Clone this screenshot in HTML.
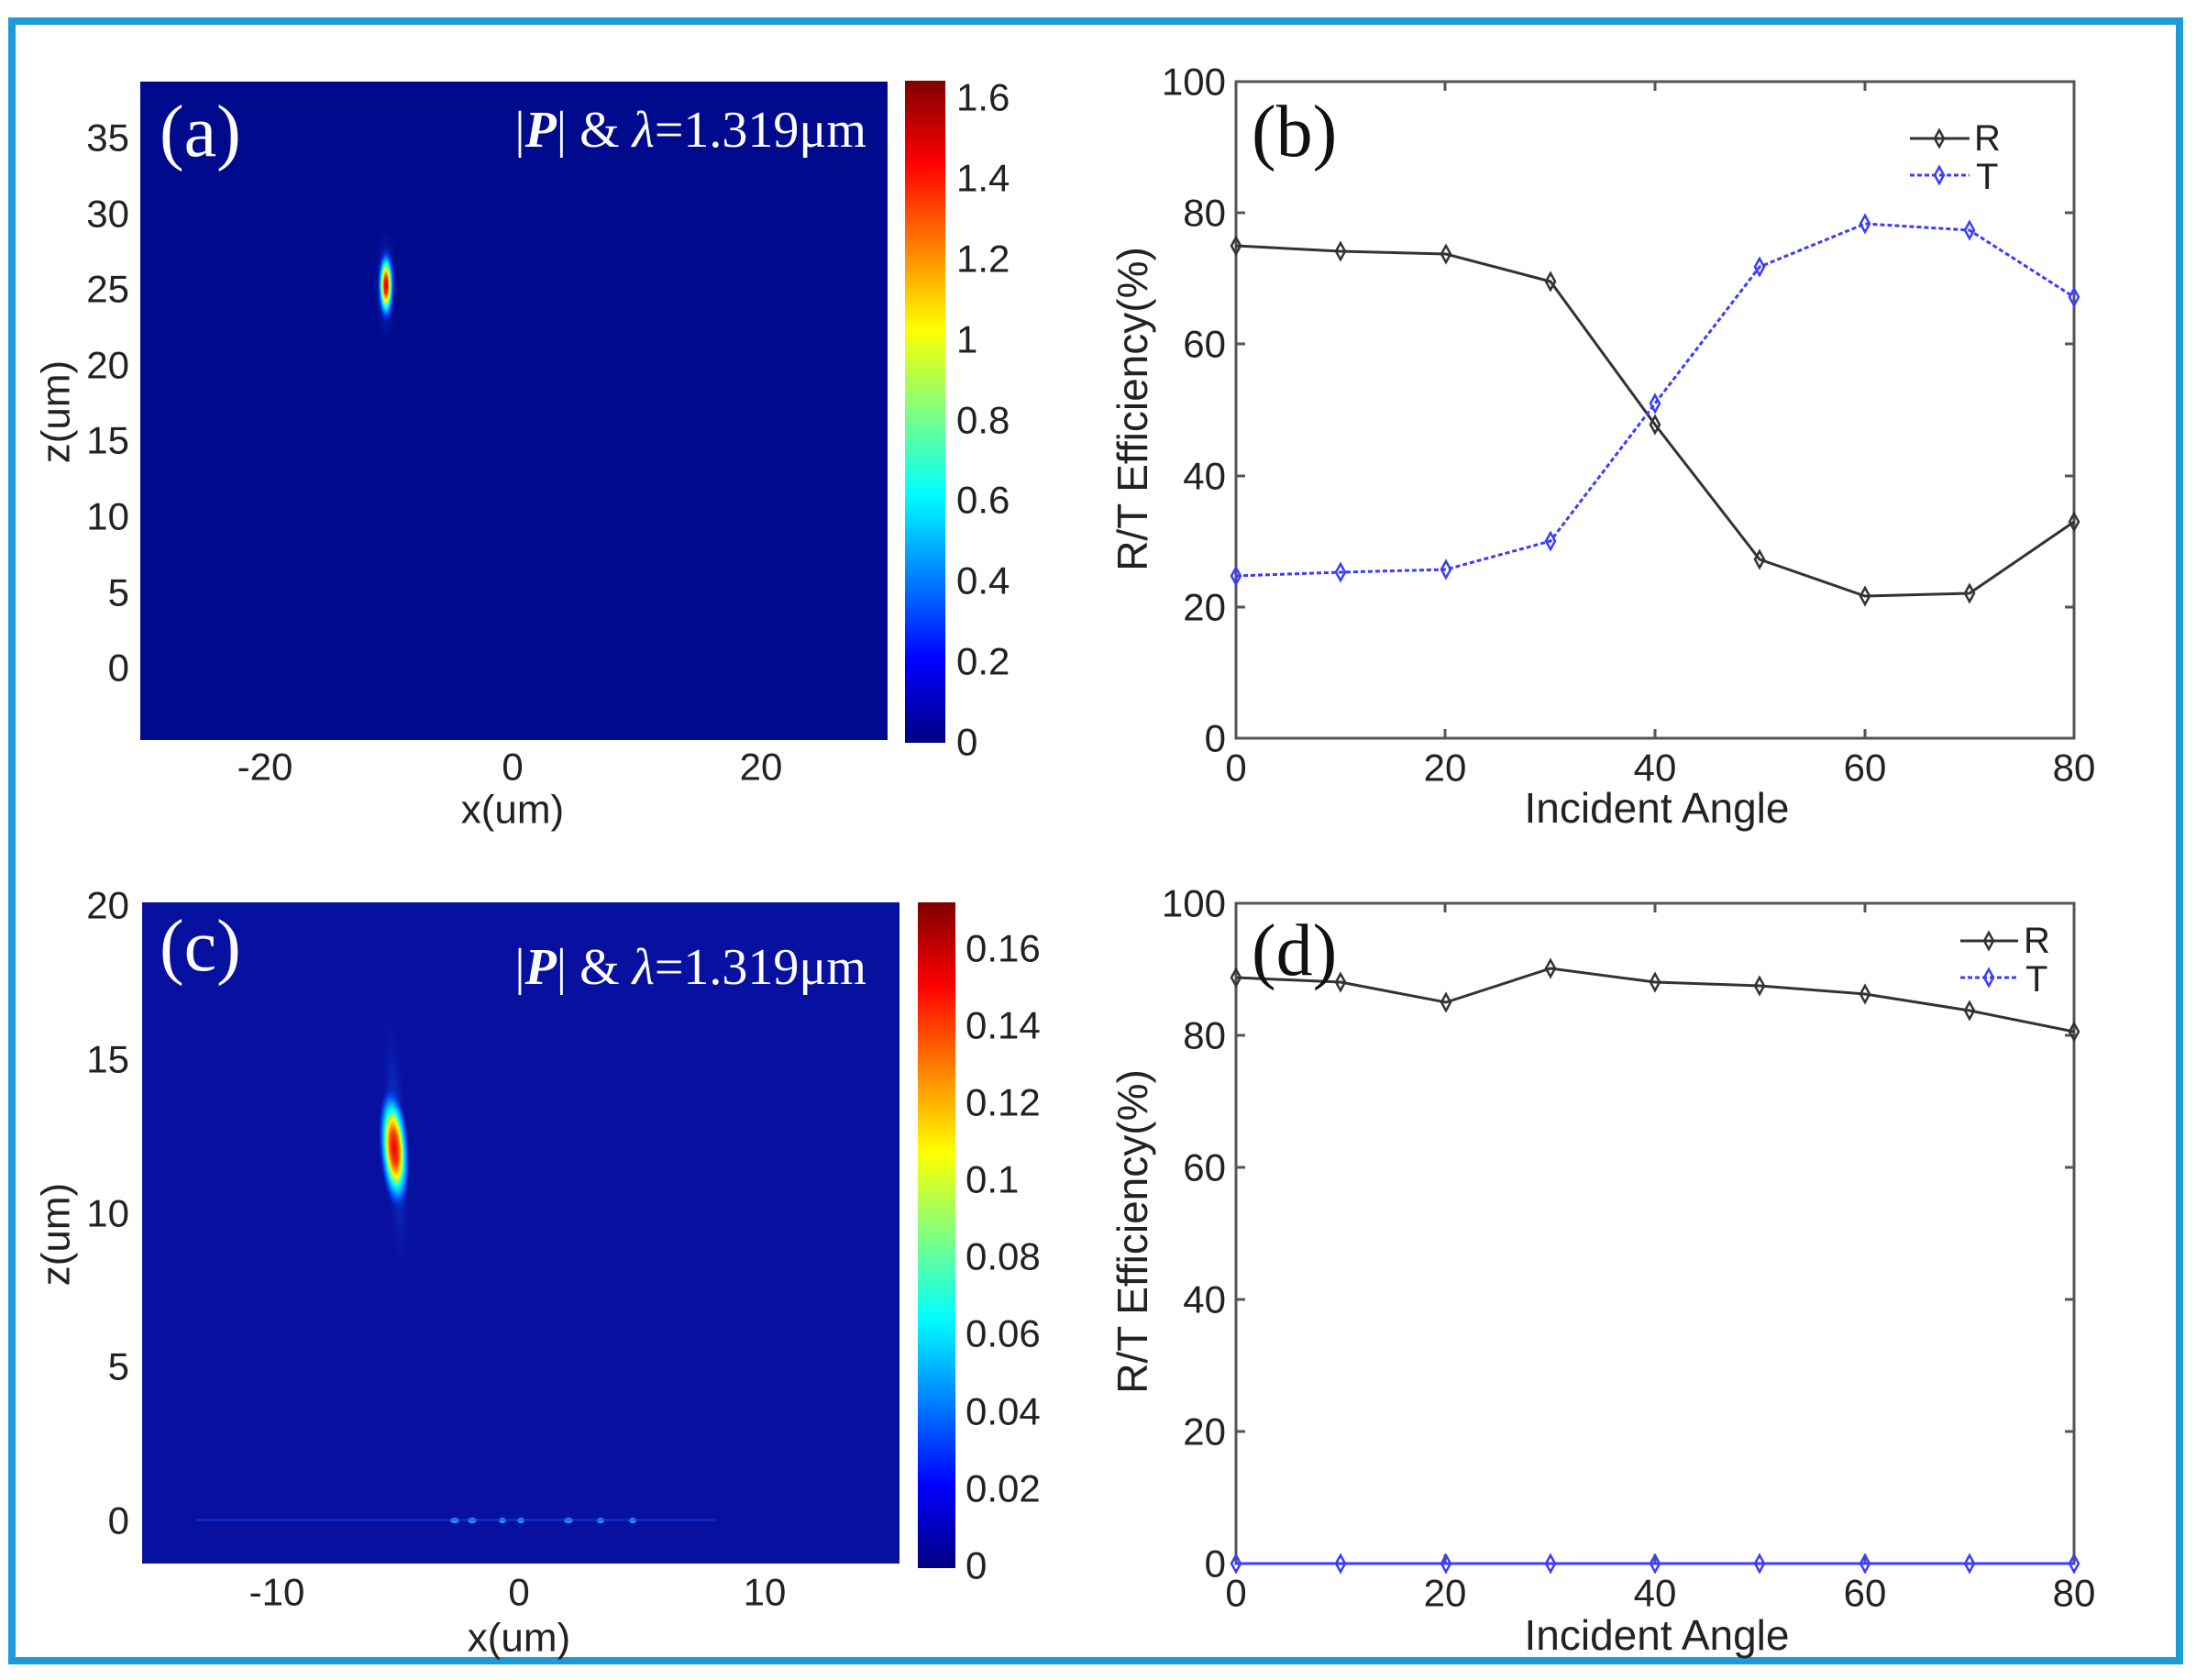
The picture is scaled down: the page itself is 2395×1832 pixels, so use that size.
<!DOCTYPE html>
<html><head><meta charset="utf-8"><style>html,body{margin:0;padding:0;background:#fff}svg{display:block}</style></head><body>
<svg width="2395" height="1832" viewBox="0 0 2395 1832" xmlns="http://www.w3.org/2000/svg" font-family="Liberation Sans, sans-serif" fill="#222">
<defs>
<linearGradient id="jet" x1="0" y1="1" x2="0" y2="0">
<stop offset="0" stop-color="#00007f"/><stop offset="0.125" stop-color="#0000ff"/><stop offset="0.375" stop-color="#00ffff"/><stop offset="0.5" stop-color="#7fff7f"/><stop offset="0.625" stop-color="#ffff00"/><stop offset="0.875" stop-color="#ff0000"/><stop offset="1" stop-color="#7f0000"/>
</linearGradient>
<radialGradient id="spot">
<stop offset="0" stop-color="#c00000"/><stop offset="0.2" stop-color="#ff2000"/><stop offset="0.38" stop-color="#ffff00"/><stop offset="0.55" stop-color="#00ffff"/><stop offset="0.75" stop-color="#0040ff"/><stop offset="1" stop-color="#000a8c" stop-opacity="0"/>
</radialGradient>
<radialGradient id="spot2">
<stop offset="0" stop-color="#e00000"/><stop offset="0.25" stop-color="#ff4000"/><stop offset="0.45" stop-color="#ffff00"/><stop offset="0.6" stop-color="#00ffff"/><stop offset="0.8" stop-color="#0050ff"/><stop offset="1" stop-color="#0a14a0" stop-opacity="0"/>
</radialGradient>
<radialGradient id="faint">
<stop offset="0" stop-color="#1060ff" stop-opacity="0.8"/><stop offset="1" stop-color="#0a14a0" stop-opacity="0"/>
</radialGradient>
</defs>
<rect x="13" y="23" width="2364" height="1788" fill="none" stroke="#1e9bd7" stroke-width="8"/>

<!-- Panel a -->
<rect x="153" y="89" width="815" height="718" fill="#000a8c"/>
<ellipse cx="421" cy="311" rx="14" ry="70" fill="url(#faint)"/>
<ellipse cx="421" cy="311" rx="10" ry="44" fill="url(#spot)"/>
<text x="174" y="170" font-family="Liberation Serif, serif" font-size="80" fill="#fff">(a)</text>
<text x="945" y="160" text-anchor="end" font-family="Liberation Serif, serif" font-size="56" fill="#fff">|<tspan font-style="italic" font-weight="bold">P</tspan>| &amp; <tspan font-style="italic">λ</tspan>=1.319μm</text>
<rect x="987" y="88" width="44" height="722" fill="url(#jet)"/>
<g font-size="42" text-anchor="end" dominant-baseline="central">
<text x="141" y="150">35</text><text x="141" y="233">30</text><text x="141" y="315">25</text><text x="141" y="398">20</text><text x="141" y="480">15</text><text x="141" y="563">10</text><text x="141" y="646">5</text><text x="141" y="728">0</text>
</g>
<g font-size="42" text-anchor="middle" dominant-baseline="central">
<text x="289" y="836">-20</text><text x="559" y="836">0</text><text x="830" y="836">20</text>
<text x="559" y="883" font-size="44">x(um)</text>
<text transform="translate(61,449) rotate(-90)" font-size="44">z(um)</text>
</g>
<g font-size="42" dominant-baseline="central">
<text x="1043" y="106">1.6</text><text x="1043" y="194">1.4</text><text x="1043" y="282">1.2</text><text x="1043" y="370">1</text><text x="1043" y="458">0.8</text><text x="1043" y="545">0.6</text><text x="1043" y="633">0.4</text><text x="1043" y="721">0.2</text><text x="1043" y="809">0</text>
</g>

<!-- Panel c -->
<rect x="155" y="984" width="826" height="721" fill="#0810a0"/>
<ellipse cx="432" cy="1245" rx="14" ry="160" fill="url(#faint)" transform="rotate(-3 432 1245)"/>
<ellipse cx="430" cy="1252" rx="17" ry="70" fill="url(#spot2)" transform="rotate(-4 430 1252)"/>
<g fill="#20a0ff">
<ellipse cx="496" cy="1658" rx="5" ry="3"/><ellipse cx="515" cy="1658" rx="5" ry="3"/><ellipse cx="548" cy="1658" rx="4" ry="3"/><ellipse cx="568" cy="1658" rx="4" ry="3"/><ellipse cx="620" cy="1658" rx="5" ry="3"/><ellipse cx="655" cy="1658" rx="4" ry="3"/><ellipse cx="690" cy="1658" rx="4" ry="3"/>
</g>
<g fill="#1040e0"><rect x="214" y="1656" width="566" height="3" opacity="0.5"/></g>
<text x="174" y="1058" font-family="Liberation Serif, serif" font-size="80" fill="#fff">(c)</text>
<text x="945" y="1073" text-anchor="end" font-family="Liberation Serif, serif" font-size="56" fill="#fff">|<tspan font-style="italic" font-weight="bold">P</tspan>| &amp; <tspan font-style="italic">λ</tspan>=1.319μm</text>
<rect x="1001" y="984" width="41" height="726" fill="url(#jet)"/>
<g font-size="42" text-anchor="end" dominant-baseline="central">
<text x="141" y="987">20</text><text x="141" y="1155">15</text><text x="141" y="1323">10</text><text x="141" y="1490">5</text><text x="141" y="1658">0</text>
</g>
<g font-size="42" text-anchor="middle" dominant-baseline="central">
<text x="302" y="1736">-10</text><text x="566" y="1736">0</text><text x="834" y="1736">10</text>
<text x="566" y="1786" font-size="44">x(um)</text>
<text transform="translate(61,1346) rotate(-90)" font-size="44">z(um)</text>
</g>
<g font-size="42" dominant-baseline="central">
<text x="1053" y="1034">0.16</text><text x="1053" y="1118">0.14</text><text x="1053" y="1202">0.12</text><text x="1053" y="1286">0.1</text><text x="1053" y="1370">0.08</text><text x="1053" y="1454">0.06</text><text x="1053" y="1539">0.04</text><text x="1053" y="1623">0.02</text><text x="1053" y="1707">0</text>
</g>

<!-- Panel b -->
<g stroke="#555" stroke-width="3" fill="none">
<rect x="1348" y="89" width="914" height="716"/>
<path d="M1348 232h10M1348 375h10M1348 519h10M1348 662h10M2262 232h-10M2262 375h-10M2262 519h-10M2262 662h-10M1576 805v-10M1805 805v-10M2034 805v-10M1576 89v10M1805 89v10M2034 89v10"/>
</g>
<polyline fill="none" stroke="#333" stroke-width="3" points="1348,268 1462,274 1577,277 1691,307 1805,463 1919,610 2034,650 2148,647 2262,569"/>
<polyline fill="none" stroke="#3c3cff" stroke-width="3" stroke-dasharray="5,3" points="1348,628 1462,624 1577,621 1691,590 1805,440 1919,291 2034,244 2148,251 2262,324"/>
<g fill="none" stroke="#333" stroke-width="2.5">
<path d="M1348 259l5 9-5 9-5-9zM1462 265l5 9-5 9-5-9zM1577 268l5 9-5 9-5-9zM1691 298l5 9-5 9-5-9zM1805 454l5 9-5 9-5-9zM1919 601l5 9-5 9-5-9zM2034 641l5 9-5 9-5-9zM2148 638l5 9-5 9-5-9zM2262 560l5 9-5 9-5-9z"/>
</g>
<g fill="none" stroke="#3c3cff" stroke-width="2.5">
<path d="M1348 619l5 9-5 9-5-9zM1462 615l5 9-5 9-5-9zM1577 612l5 9-5 9-5-9zM1691 581l5 9-5 9-5-9zM1805 431l5 9-5 9-5-9zM1919 282l5 9-5 9-5-9zM2034 235l5 9-5 9-5-9zM2148 242l5 9-5 9-5-9zM2262 315l5 9-5 9-5-9z"/>
</g>
<path d="M2083 151h65" stroke="#333" stroke-width="3"/><path d="M2115 142l5 9-5 9-5-9z" fill="none" stroke="#333" stroke-width="2.5"/>
<path d="M2083 191h65" stroke="#3c3cff" stroke-width="3" stroke-dasharray="5,3"/><path d="M2115 182l5 9-5 9-5-9z" fill="none" stroke="#3c3cff" stroke-width="2.5"/>
<g font-size="40" dominant-baseline="central"><text x="2153" y="151">R</text><text x="2155" y="193">T</text></g>
<text x="1365" y="170" font-family="Liberation Serif, serif" font-size="80" fill="#111">(b)</text>
<g font-size="42" text-anchor="end" dominant-baseline="central">
<text x="1337" y="89">100</text><text x="1337" y="232">80</text><text x="1337" y="375">60</text><text x="1337" y="519">40</text><text x="1337" y="662">20</text><text x="1337" y="805">0</text>
</g>
<g font-size="42" text-anchor="middle" dominant-baseline="central">
<text x="1348" y="837">0</text><text x="1576" y="837">20</text><text x="1805" y="837">40</text><text x="2034" y="837">60</text><text x="2262" y="837">80</text>
<text x="1807" y="881" font-size="46">Incident Angle</text>
<text transform="translate(1235,446) rotate(-90)" font-size="46">R/T Efficiency(%)</text>
</g>

<!-- Panel d -->
<g stroke="#555" stroke-width="3" fill="none">
<rect x="1348" y="985" width="914" height="720"/>
<path d="M1348 1129h10M1348 1273h10M1348 1417h10M1348 1561h10M2262 1129h-10M2262 1273h-10M2262 1417h-10M2262 1561h-10M1576 1705v-10M1805 1705v-10M2034 1705v-10M1576 985v10M1805 985v10M2034 985v10"/>
</g>
<polyline fill="none" stroke="#333" stroke-width="3" points="1348,1066 1462,1071 1577,1093 1691,1056 1805,1071 1919,1075 2034,1084 2148,1102 2262,1125"/>
<path d="M1348 1705H2262" stroke="#3c3cff" stroke-width="3"/>
<g fill="none" stroke="#333" stroke-width="2.5">
<path d="M1348 1057l5 9-5 9-5-9zM1462 1062l5 9-5 9-5-9zM1577 1084l5 9-5 9-5-9zM1691 1047l5 9-5 9-5-9zM1805 1062l5 9-5 9-5-9zM1919 1066l5 9-5 9-5-9zM2034 1075l5 9-5 9-5-9zM2148 1093l5 9-5 9-5-9zM2262 1116l5 9-5 9-5-9z"/>
</g>
<g fill="none" stroke="#3c3cff" stroke-width="2.5">
<path d="M1348 1696l5 9-5 9-5-9zM1462 1696l5 9-5 9-5-9zM1577 1696l5 9-5 9-5-9zM1691 1696l5 9-5 9-5-9zM1805 1696l5 9-5 9-5-9zM1919 1696l5 9-5 9-5-9zM2034 1696l5 9-5 9-5-9zM2148 1696l5 9-5 9-5-9zM2262 1696l5 9-5 9-5-9z"/>
</g>
<path d="M2138 1026h63" stroke="#333" stroke-width="3"/><path d="M2169 1017l5 9-5 9-5-9z" fill="none" stroke="#333" stroke-width="2.5"/>
<path d="M2138 1066h63" stroke="#3c3cff" stroke-width="3" stroke-dasharray="5,3"/><path d="M2169 1057l5 9-5 9-5-9z" fill="none" stroke="#3c3cff" stroke-width="2.5"/>
<g font-size="40" dominant-baseline="central"><text x="2207" y="1026">R</text><text x="2209" y="1068">T</text></g>
<text x="1365" y="1063" font-family="Liberation Serif, serif" font-size="80" fill="#111">(d)</text>
<g font-size="42" text-anchor="end" dominant-baseline="central">
<text x="1337" y="985">100</text><text x="1337" y="1129">80</text><text x="1337" y="1273">60</text><text x="1337" y="1417">40</text><text x="1337" y="1561">20</text><text x="1337" y="1705">0</text>
</g>
<g font-size="42" text-anchor="middle" dominant-baseline="central">
<text x="1348" y="1737">0</text><text x="1576" y="1737">20</text><text x="1805" y="1737">40</text><text x="2034" y="1737">60</text><text x="2262" y="1737">80</text>
<text x="1807" y="1783" font-size="46">Incident Angle</text>
<text transform="translate(1235,1343) rotate(-90)" font-size="46">R/T Efficiency(%)</text>
</g>
</svg>
</body></html>
